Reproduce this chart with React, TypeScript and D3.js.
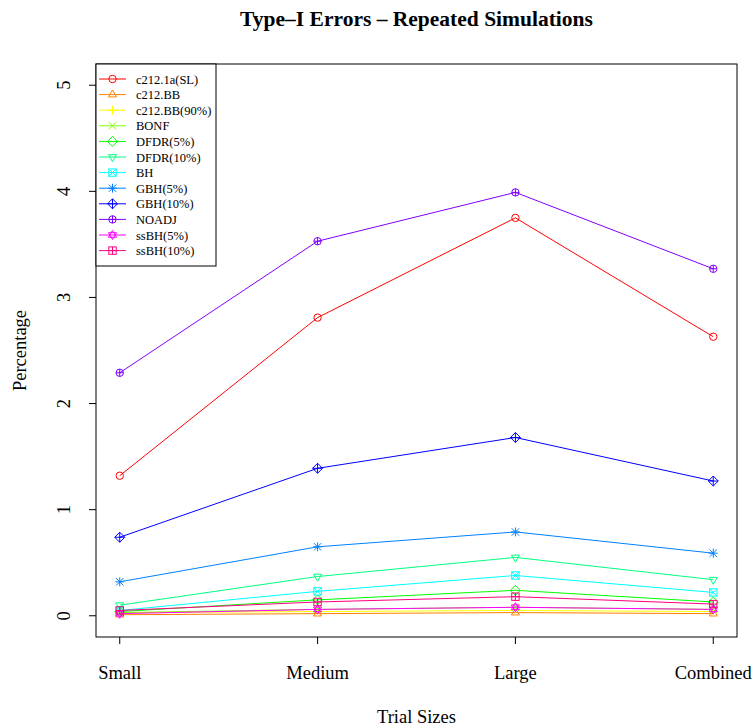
import React from "react";
import * as d3 from "d3";

const categories = ["Small", "Medium", "Large", "Combined"];
const seriesNames = [
  "c212.1a(SL)", "c212.BB", "c212.BB(90%)", "BONF", "DFDR(5%)", "DFDR(10%)",
  "BH", "GBH(5%)", "GBH(10%)", "NOADJ", "ssBH(5%)", "ssBH(10%)",
];
const c2121a = [1.32, 2.81, 3.75, 2.63];
const c212BB = [0.01, 0.02, 0.03, 0.02];
const c212BB90 = [0.03, 0.04, 0.05, 0.04];
const bonf = [0.03, 0.06, 0.08, 0.06];
const dfdr5 = [0.04, 0.15, 0.24, 0.13];
const dfdr10 = [0.10, 0.37, 0.55, 0.34];
const bh = [0.05, 0.23, 0.38, 0.22];
const gbh5 = [0.32, 0.65, 0.79, 0.59];
const gbh10 = [0.74, 1.39, 1.68, 1.27];
const noadj = [2.29, 3.53, 3.99, 3.27];
const ssbh5 = [0.02, 0.06, 0.08, 0.06];
const ssbh10 = [0.05, 0.13, 0.18, 0.11];
const seriesValues = [c2121a, c212BB, c212BB90, bonf, dfdr5, dfdr10, bh, gbh5, gbh10, noadj, ssbh5, ssbh10];
const colors = ["#FF0000", "#FF8000", "#FFFF00", "#80FF00", "#00FF00", "#00FF80", "#00FFFF", "#0080FF", "#0000FF", "#8000FF", "#FF00FF", "#FF0080"];
const pchs = [1, 2, 3, 4, 5, 6, 7, 8, 9, 10, 11, 12];
const yTicks = [0, 1, 2, 3, 4, 5];

const FONT = "'Liberation Serif', 'Times New Roman', serif";

function Symbol({ pch, x, y, color }: { pch: number; x: number; y: number; color: string }) {
  const s = 3.7;
  const p = { stroke: color, fill: "none", strokeWidth: 1 };
  const circle = <circle cx={x} cy={y} r={s} {...p} />;
  const plus = <path d={`M${x - s * 1.2},${y}H${x + s * 1.2}M${x},${y - s * 1.2}V${y + s * 1.2}`} {...p} />;
  const cross = <path d={`M${x - s},${y - s}L${x + s},${y + s}M${x - s},${y + s}L${x + s},${y - s}`} {...p} />;
  const square = <rect x={x - s} y={y - s} width={2 * s} height={2 * s} {...p} />;
  const t = s * 1.25;
  const triUp = <path d={`M${x},${y - t}L${x + t * 0.87},${y + t * 0.5}L${x - t * 0.87},${y + t * 0.5}Z`} {...p} />;
  const triDown = <path d={`M${x},${y + t}L${x + t * 0.87},${y - t * 0.5}L${x - t * 0.87},${y - t * 0.5}Z`} {...p} />;
  const d = s * 1.35;
  const diamond = <path d={`M${x},${y - d}L${x + d},${y}L${x},${y + d}L${x - d},${y}Z`} {...p} />;
  const plusD = <path d={`M${x - d},${y}H${x + d}M${x},${y - d}V${y + d}`} {...p} />;
  const plusC = <path d={`M${x - s},${y}H${x + s}M${x},${y - s}V${y + s}`} {...p} />;
  switch (pch) {
    case 1: return circle;
    case 2: return triUp;
    case 3: return plus;
    case 4: return cross;
    case 5: return diamond;
    case 6: return triDown;
    case 7: return <g>{square}{cross}</g>;
    case 8: return <g>{plus}{cross}</g>;
    case 9: return <g>{diamond}{plusD}</g>;
    case 10: return <g>{circle}{plusC}</g>;
    case 11: return <g>{triUp}{triDown}</g>;
    case 12: return <g>{square}{plusC}</g>;
    default: return circle;
  }
}

export default function App() {
  const W = 754, H = 728;
  const left = 96, right = 737, top = 64, bottom = 637;
  const x = d3.scaleLinear().domain([0.88, 4.12]).range([left, right]);
  const y = d3.scaleLinear().domain([-0.2, 5.2]).range([bottom, top]);
  const line = d3.line<number>().x((_, i) => x(i + 1)).y((v) => y(v));

  const legX = 96, legY = 64, legW = 120, rowH = 15.6;
  const legH = 202;

  return (
    <svg width={W} height={H} style={{ position: "absolute", left: 0, top: 0, background: "#fff" }} fontFamily={FONT}>
      <rect x={0} y={0} width={W} height={H} fill="#fff" />
      <text x={(left + right) / 2} y={26} textAnchor="middle" fontSize={21.5} fontWeight="bold">
        Type–I Errors – Repeated Simulations
      </text>
      {seriesValues.map((vals, k) => (
        <g key={k}>
          <path d={line(vals) || ""} fill="none" stroke={colors[k]} strokeWidth={1} />
          {vals.map((v, i) => (
            <Symbol key={i} pch={pchs[k]} x={x(i + 1)} y={y(v)} color={colors[k]} />
          ))}
        </g>
      ))}
      <rect x={left} y={top} width={right - left} height={bottom - top} fill="none" stroke="#000" strokeWidth={1} />
      {yTicks.map((t) => (
        <g key={t}>
          <line x1={left - 7} x2={left} y1={y(t)} y2={y(t)} stroke="#000" />
          <text transform={`translate(${70},${y(t)}) rotate(-90)`} textAnchor="middle" fontSize={18.5}>
            {t}
          </text>
        </g>
      ))}
      {categories.map((c, i) => (
        <g key={c}>
          <line x1={x(i + 1)} x2={x(i + 1)} y1={bottom} y2={bottom + 7} stroke="#000" />
          <text x={x(i + 1)} y={679} textAnchor="middle" fontSize={18.5}>
            {c}
          </text>
        </g>
      ))}
      <text x={(left + right) / 2} y={723} textAnchor="middle" fontSize={18.5}>
        Trial Sizes
      </text>
      <text transform={`translate(${26},${(top + bottom) / 2}) rotate(-90)`} textAnchor="middle" fontSize={18.5}>
        Percentage
      </text>
      <rect x={legX} y={legY} width={legW} height={legH} fill="#fff" stroke="#000" />
      {seriesNames.map((n, k) => {
        const cy = legY + 15 + k * rowH;
        return (
          <g key={n}>
            <line x1={legX + 3} x2={legX + 30} y1={cy} y2={cy} stroke={colors[k]} />
            <Symbol pch={pchs[k]} x={legX + 16.5} y={cy} color={colors[k]} />
            <text x={legX + 40} y={cy + 4.5} fontSize={12.5}>
              {n}
            </text>
          </g>
        );
      })}
    </svg>
  );
}
